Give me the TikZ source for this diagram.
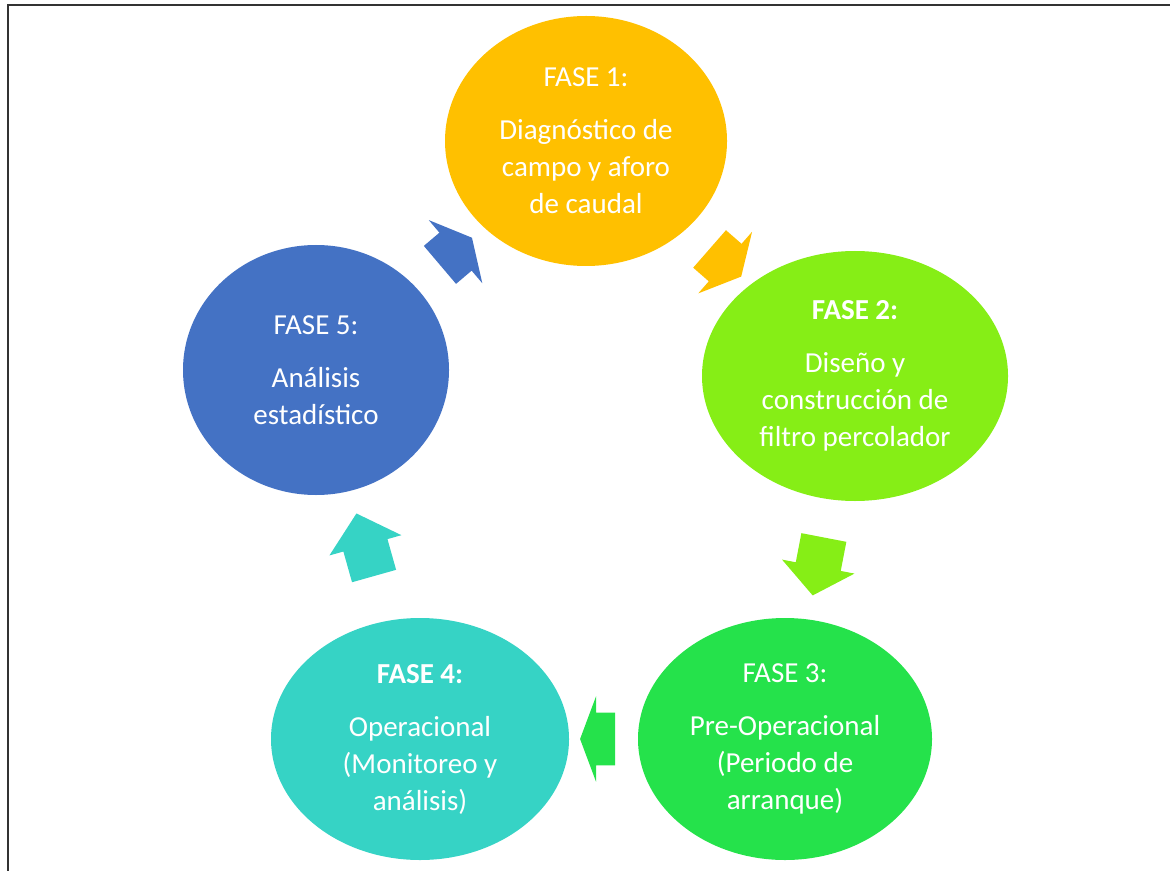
\documentclass[tikz,border=0pt]{standalone}
\usepackage{fontspec}
\setmainfont{Carlito}
\usetikzlibrary{shapes.geometric,shapes.arrows}
\definecolor{fase1}{HTML}{FFC000}
\definecolor{fase2}{HTML}{86EE16}
\definecolor{fase3}{HTML}{25E24B}
\definecolor{fase4}{HTML}{36D3C5}
\definecolor{fase5}{HTML}{4472C4}
\begin{document}
\begin{tikzpicture}[x=0.5pt,y=-0.5pt]
\tikzstyle{fase}=[ellipse, inner sep=0pt, text=white, align=center, font=\fontsize{14.5}{18.5}\selectfont]
\tikzstyle{flecha}=[single arrow, sloped, allow upside down, inner xsep=0pt]
  \useasboundingbox (0,0) rectangle (1170,871);
  % frame
  \draw[line width=1pt, black!80] (1170,5) -- (8,5) -- (8,871);
  % fase 1
  \node[fase, fill=fase1, minimum width=141pt, minimum height=125pt] (f1) at (586,141) {FASE 1:\\[8pt]Diagnóstico de\\campo y aforo\\de caudal};
  % fase 2
  \node[fase, fill=fase2, minimum width=153pt, minimum height=125pt] (f2) at (855,376) {\textbf{FASE 2:}\\[8pt]Diseño y\\construcción de\\filtro percolador};
  % fase 3
  \node[fase, fill=fase3, minimum width=147pt, minimum height=121pt] (f3) at (785,739) {FASE 3:\\[8pt]Pre-Operacional\\(Periodo de\\arranque)};
  % fase 4
  \node[fase, fill=fase4, minimum width=149pt, minimum height=121pt] (f4) at (420,739) {\textbf{FASE 4:}\\[8pt]Operacional\\(Monitoreo y\\análisis)};
  % fase 5
  \node[fase, fill=fase5, minimum width=133pt, minimum height=125pt] (f5) at (316,370) {FASE 5:\\[8pt]Análisis\\estadístico};
  % arrows
  \path (f1.center) -- node[flecha, fill=fase1, minimum height=21pt, minimum width=40.5pt, inner ysep=12.25pt, single arrow head extend=8pt, single arrow tip angle=125] (a12) {} (f2.center);
  \path (f2.center) -- node[flecha, fill=fase2, minimum height=29.5pt, minimum width=36.5pt, inner ysep=11.25pt, single arrow head extend=7pt, single arrow tip angle=103] (a23) {} (f3.center);
  \path (f3.center) -- node[flecha, fill=fase3, minimum height=17.5pt, minimum width=42.5pt, inner ysep=13pt, single arrow head extend=8.25pt, single arrow tip angle=139] (a34) {} (f4.center);
  \path (f4.center) -- node[flecha, fill=fase4, minimum height=32.5pt, minimum width=37pt, inner ysep=11.25pt, single arrow head extend=7.25pt, single arrow tip angle=97] (a45) {} (f5.center);
  \path (f5.center) -- node[flecha, fill=fase5, minimum height=21pt, minimum width=41pt, inner ysep=12.25pt, single arrow head extend=8.25pt, single arrow tip angle=125] (a51) {} (f1.center);
\end{tikzpicture}
\end{document}
